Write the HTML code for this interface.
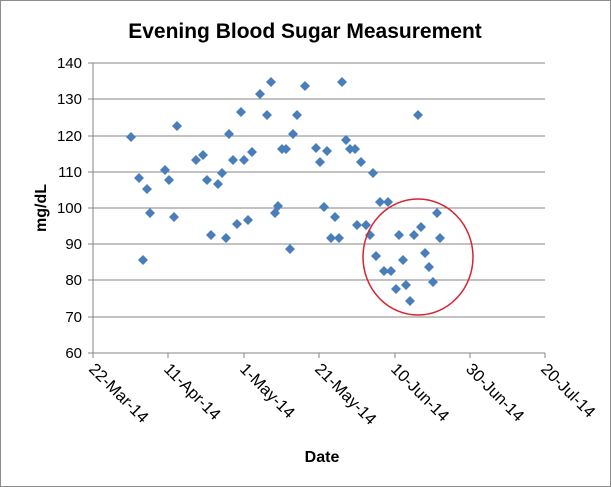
<!DOCTYPE html>
<html><head><style>body{margin:0;background:#fff}svg{display:block}</style></head><body>
<svg width="611" height="487" xmlns="http://www.w3.org/2000/svg" font-family="Liberation Sans, sans-serif">
<rect x="0.5" y="0.5" width="610" height="486" fill="#fff" stroke="#8c8c8c"/>
<text x="305" y="38" text-anchor="middle" font-size="21" font-weight="bold">Evening Blood Sugar Measurement</text>
<g stroke="#868686" stroke-width="1">
<line x1="93" y1="63" x2="545" y2="63"/><line x1="93" y1="99" x2="545" y2="99"/>
<line x1="93" y1="136" x2="545" y2="136"/><line x1="93" y1="172" x2="545" y2="172"/>
<line x1="93" y1="208" x2="545" y2="208"/><line x1="93" y1="244" x2="545" y2="244"/>
<line x1="93" y1="280" x2="545" y2="280"/><line x1="93" y1="317" x2="545" y2="317"/>
<line x1="88" y1="353" x2="545" y2="353"/><line x1="93" y1="63" x2="93" y2="353"/>
<line x1="88" y1="63" x2="93" y2="63"/><line x1="88" y1="99" x2="93" y2="99"/><line x1="88" y1="136" x2="93" y2="136"/><line x1="88" y1="172" x2="93" y2="172"/><line x1="88" y1="208" x2="93" y2="208"/><line x1="88" y1="244" x2="93" y2="244"/><line x1="88" y1="280" x2="93" y2="280"/><line x1="88" y1="317" x2="93" y2="317"/>
<line x1="93" y1="353" x2="93" y2="358"/><line x1="168" y1="353" x2="168" y2="358"/><line x1="244" y1="353" x2="244" y2="358"/><line x1="319" y1="353" x2="319" y2="358"/><line x1="395" y1="353" x2="395" y2="358"/><line x1="470" y1="353" x2="470" y2="358"/><line x1="545" y1="353" x2="545" y2="358"/>
</g>
<g font-size="15" text-anchor="end">
<text x="82" y="68">140</text><text x="82" y="104">130</text><text x="82" y="141">120</text><text x="82" y="177">110</text><text x="82" y="213">100</text><text x="82" y="249">90</text><text x="82" y="285">80</text><text x="82" y="322">70</text><text x="82" y="358">60</text>
</g>
<g font-size="16.5" text-anchor="start">
<text transform="translate(88,370) rotate(45)">22-Mar-14</text>
<text transform="translate(163,370) rotate(45)">11-Apr-14</text>
<text transform="translate(239,370) rotate(45)">1-May-14</text>
<text transform="translate(314,370) rotate(45)">21-May-14</text>
<text transform="translate(390,370) rotate(45)">10-Jun-14</text>
<text transform="translate(465,370) rotate(45)">30-Jun-14</text>
<text transform="translate(540,370) rotate(45)">20-Jul-14</text>
</g>
<text transform="translate(46,208) rotate(-90)" text-anchor="middle" font-size="16" font-weight="bold">mg/dL</text>
<text x="322" y="462" text-anchor="middle" font-size="16" font-weight="bold">Date</text>
<g fill="#4a7ebb">
<path d="M131,132l5,5l-5,5l-5,-5zM139,173l5,5l-5,5l-5,-5zM147,184l5,5l-5,5l-5,-5zM150,208l5,5l-5,5l-5,-5zM143,255l5,5l-5,5l-5,-5zM165,165l5,5l-5,5l-5,-5zM169,175l5,5l-5,5l-5,-5zM174,212l5,5l-5,5l-5,-5zM177,121l5,5l-5,5l-5,-5zM196,155l5,5l-5,5l-5,-5zM203,150l5,5l-5,5l-5,-5zM207,175l5,5l-5,5l-5,-5zM211,230l5,5l-5,5l-5,-5zM218,179l5,5l-5,5l-5,-5zM222,168l5,5l-5,5l-5,-5zM226,233l5,5l-5,5l-5,-5zM229,129l5,5l-5,5l-5,-5zM233,155l5,5l-5,5l-5,-5zM237,219l5,5l-5,5l-5,-5zM241,107l5,5l-5,5l-5,-5zM244,155l5,5l-5,5l-5,-5zM248,215l5,5l-5,5l-5,-5zM252,147l5,5l-5,5l-5,-5zM260,89l5,5l-5,5l-5,-5zM267,110l5,5l-5,5l-5,-5zM271,77l5,5l-5,5l-5,-5zM275,208l5,5l-5,5l-5,-5zM278,201l5,5l-5,5l-5,-5zM282,144l5,5l-5,5l-5,-5zM286,144l5,5l-5,5l-5,-5zM290,244l5,5l-5,5l-5,-5zM293,129l5,5l-5,5l-5,-5zM297,110l5,5l-5,5l-5,-5zM305,81l5,5l-5,5l-5,-5zM316,143l5,5l-5,5l-5,-5zM320,157l5,5l-5,5l-5,-5zM327,146l5,5l-5,5l-5,-5zM324,202l5,5l-5,5l-5,-5zM335,212l5,5l-5,5l-5,-5zM331,233l5,5l-5,5l-5,-5zM339,233l5,5l-5,5l-5,-5zM342,77l5,5l-5,5l-5,-5zM346,135l5,5l-5,5l-5,-5zM350,144l5,5l-5,5l-5,-5zM355,144l5,5l-5,5l-5,-5zM361,157l5,5l-5,5l-5,-5zM373,168l5,5l-5,5l-5,-5zM357,220l5,5l-5,5l-5,-5zM366,220l5,5l-5,5l-5,-5zM370,230l5,5l-5,5l-5,-5zM380,197l5,5l-5,5l-5,-5zM388,197l5,5l-5,5l-5,-5zM376,251l5,5l-5,5l-5,-5zM384,266l5,5l-5,5l-5,-5zM391,266l5,5l-5,5l-5,-5zM396,284l5,5l-5,5l-5,-5zM399,230l5,5l-5,5l-5,-5zM403,255l5,5l-5,5l-5,-5zM406,280l5,5l-5,5l-5,-5zM410,296l5,5l-5,5l-5,-5zM414,230l5,5l-5,5l-5,-5zM418,110l5,5l-5,5l-5,-5zM421,222l5,5l-5,5l-5,-5zM425,248l5,5l-5,5l-5,-5zM429,262l5,5l-5,5l-5,-5zM433,277l5,5l-5,5l-5,-5zM437,208l5,5l-5,5l-5,-5zM440,233l5,5l-5,5l-5,-5z"/>
</g>
<ellipse cx="418" cy="257" rx="55" ry="58" fill="none" stroke="#d9232e" stroke-width="1.5"/>
</svg>
</body></html>
